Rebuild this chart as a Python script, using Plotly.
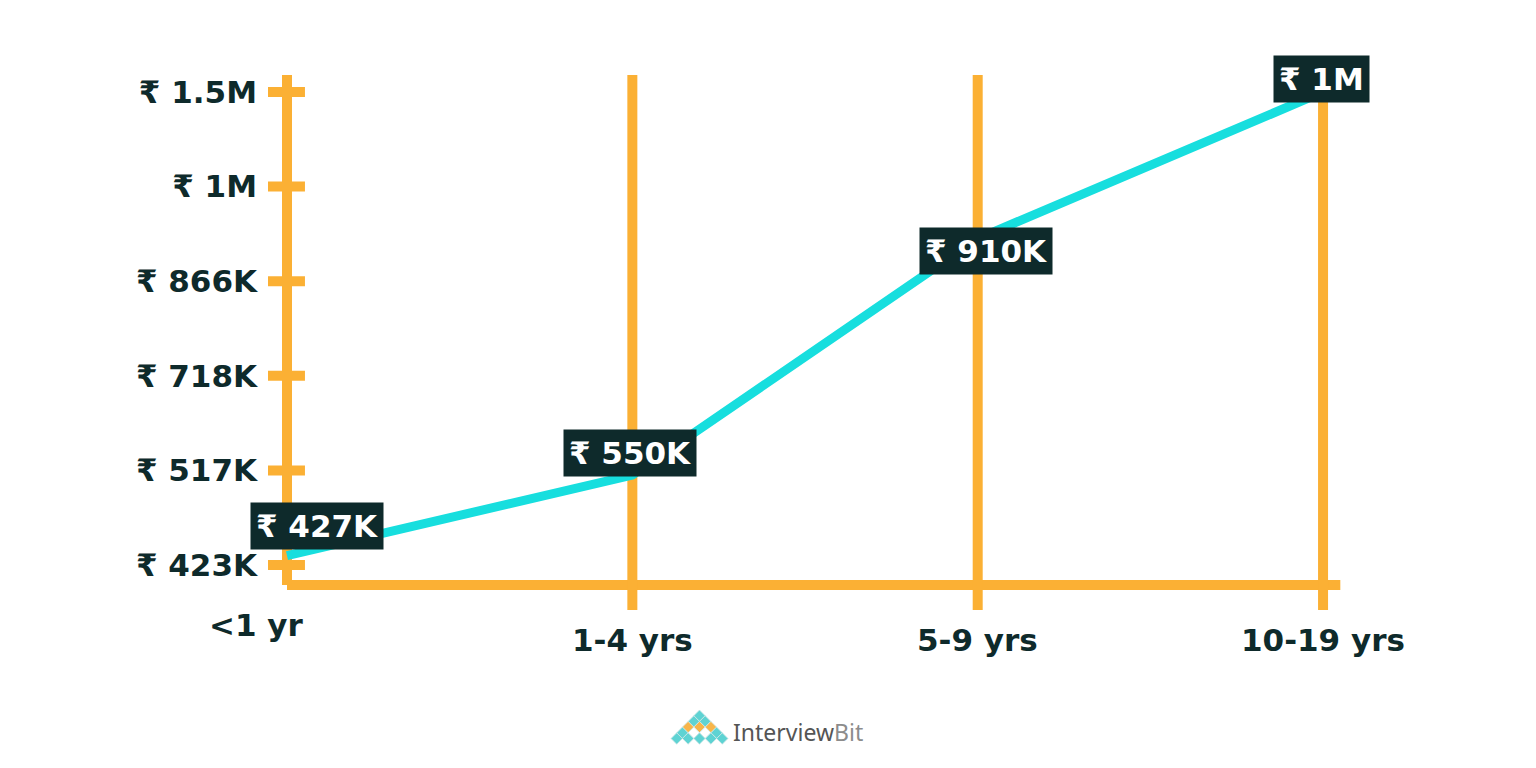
import plotly.graph_objects as go

# ---------------- data ----------------
categories = ["<1 yr", "1-4 yrs", "5-9 yrs", "10-19 yrs"]
y_tick_labels = ["₹ 423K", "₹ 517K", "₹ 718K", "₹ 866K", "₹ 1M", "₹ 1.5M"]
# positions of each point measured on the (evenly spaced) tick scale of the picture
point_positions = [0.10, 0.95, 3.45, 5.00]
point_labels = ["₹ 427K", "₹ 550K", "₹ 910K", "₹ 1M"]

# ---------------- style ----------------
W, H = 1536, 768
OFF = 8  # page body offset
ML, MR, MT, MB = 265 - OFF, 176 + OFF, 60 - OFF, 148 + OFF
X_RANGE = [-0.0637, 3.107]
Y_RANGE = [-0.581, 5.338]
ORANGE = "#FBB034"
CYAN = "#17DEDE"
DARK = "#0E2A2B"
FONT = "DejaVu Sans"

x_idx = list(range(len(categories)))
y_idx = list(range(len(y_tick_labels)))

plot_w = W - ML - MR
plot_h = H - MT - MB


def px(xp):
    return (xp - OFF - ML) / plot_w


def py(yp):
    return 1 - (yp - OFF - MT) / plot_h


fig = go.Figure()

shapes = []
lw = 10
shapes.append(dict(type="line", xref="x", yref="y", x0=0, x1=0, y0=-0.211, y1=5.18,
                   line=dict(color=ORANGE, width=lw), layer="below"))
shapes.append(dict(type="line", xref="x", yref="y", x0=0, x1=3.05, y0=-0.211, y1=-0.211,
                   line=dict(color=ORANGE, width=lw), layer="below"))
for xi in x_idx[1:]:
    shapes.append(dict(type="line", xref="x", yref="y", x0=xi, x1=xi, y0=-0.476, y1=5.18,
                       line=dict(color=ORANGE, width=lw), layer="below"))
for yi in y_idx:
    shapes.append(dict(type="line", xref="x", yref="y", x0=-0.055, x1=0.052, y0=yi, y1=yi,
                       line=dict(color=ORANGE, width=lw), layer="below"))

fig.add_trace(go.Scatter(
    x=x_idx, y=point_positions, mode="lines",
    line=dict(color=CYAN, width=9), hoverinfo="skip", showlegend=False,
))

annotations = []
label_shift = [(30, 30), (-2, 22), (8, -12), (-2, 13)]
for xi, yp, txt, (dx, dy) in zip(x_idx, point_positions, point_labels, label_shift):
    annotations.append(dict(
        x=xi, y=yp, xref="x", yref="y", text=txt, showarrow=False,
        xshift=dx, yshift=dy, bgcolor=DARK, borderpad=5,
        font=dict(family=FONT, size=31, color="white", weight="bold"),
    ))

cat_pos = [(-31, 625), (0, 640), (0, 640), (0, 640)]
for xi, txt, (dx, ypix) in zip(x_idx, categories, cat_pos):
    annotations.append(dict(
        x=xi, y=py(ypix), xref="x", yref="paper", yanchor="middle", text=txt,
        showarrow=False, xshift=dx,
        font=dict(family=FONT, size=31, color=DARK, weight="bold"),
    ))

annotations.append(dict(
    x=px(731), y=py(732), xref="paper", yref="paper", xanchor="left", yanchor="middle",
    text="Interview<span style='color:#8c8c8c'>Bit</span>", showarrow=False,
    font=dict(family="Noto Sans", size=23, color="#555555"),
))

# logo diamond pyramid
rows = [
    "c",
    "cc",
    "ooo",
    "cwwc",
    "ccccc",
]
colors = {"c": "#5ed3d3", "o": "#f7b54a", "w": "#ffffff"}
s = 5.7
n = len(rows)
x_left, y_top = 671, 710
for r, row in enumerate(rows):
    cy = y_top + s + r * s
    for k, ch in enumerate(row):
        cx = x_left + (n - len(row)) * s + s + k * 2 * s
        pts = [(cx, cy - s), (cx + s, cy), (cx, cy + s), (cx - s, cy)]
        path = "M " + " L ".join(f"{px(a):.5f},{py(b):.5f}" for a, b in pts) + " Z"
        shapes.append(dict(type="path", xref="paper", yref="paper", path=path,
                           fillcolor=colors[ch], line=dict(color="#cfe6e6", width=0.8),
                           layer="above"))

fig.update_layout(
    width=W, height=H, autosize=False,
    margin=dict(l=ML, r=MR, t=MT, b=MB),
    paper_bgcolor="white", plot_bgcolor="white",
    shapes=shapes, annotations=annotations, showlegend=False,
    xaxis=dict(range=X_RANGE, showgrid=False, zeroline=False, showline=False,
               showticklabels=False, ticks="", fixedrange=True),
    yaxis=dict(range=Y_RANGE, showgrid=False, zeroline=False, showline=False,
               tickmode="array", tickvals=y_idx, ticktext=y_tick_labels,
               ticks="", ticklabelstandoff=7,
               tickfont=dict(family=FONT, size=31, color=DARK, weight="bold"),
               fixedrange=True),
)

fig.write_html("out.html", config={"displayModeBar": False})
